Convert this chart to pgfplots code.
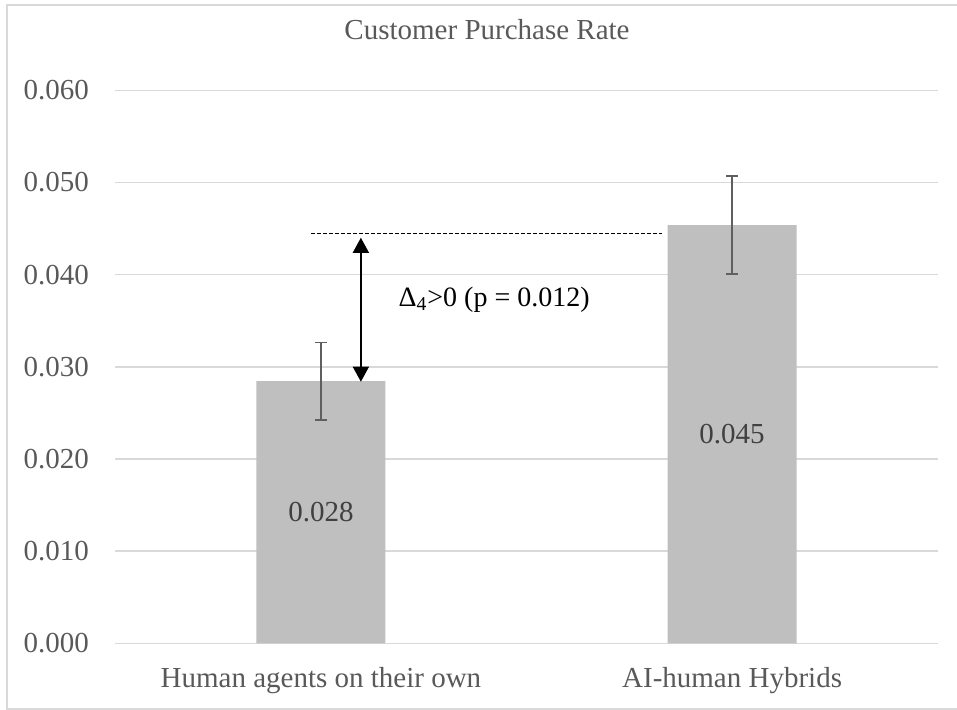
\documentclass[border=0pt]{standalone}
\usepackage{fontspec}
\setmainfont{Liberation Serif}
\usepackage{pgfplots}
\pgfplotsset{compat=1.18}
\usetikzlibrary{arrows.meta}
\definecolor{barfill}{HTML}{BFBFBF}
\definecolor{gridgray}{HTML}{D9D9D9}
\definecolor{textgray}{HTML}{595959}
\definecolor{labelgray}{HTML}{404040}
\definecolor{errgray}{HTML}{5F5F5F}
\begin{document}
\begin{tikzpicture}
\useasboundingbox (-57.65pt,-33.35pt) rectangle (420.85pt,321.65pt);
\draw[gridgray, line width=0.75pt] (-54.15pt,-32.9pt) rectangle (480pt,319.15pt);
\begin{axis}[
  scale only axis,
  width=411.2pt, height=276.5pt,
  xmin=-0.5, xmax=1.5,
  ymin=0, ymax=0.06,
  clip=false,
  axis line style={draw=none},
  tick style={draw=none},
  major tick length=0pt,
  ymajorgrids,
  major grid style={gridgray, line width=0.75pt},
  ytick={0,0.01,0.02,0.03,0.04,0.05,0.06},
  scaled y ticks=false,
  yticklabel style={/pgf/number format/fixed, /pgf/number format/fixed zerofill, /pgf/number format/precision=3, /pgf/number format/assume math mode=true},
  yticklabel style={inner sep=0pt, anchor=east, xshift=-13pt, font=\fontsize{14.5}{17}\selectfont, text=textgray},
  xtick={0,1},
  xticklabels={Human agents on their own, AI-human Hybrids},
  xticklabel style={inner sep=0pt, anchor=north, yshift=-11.8pt, font=\fontsize{14.5}{17}\selectfont, text=textgray},
  title={Customer Purchase Rate},
  title style={at={(axis description cs:0.452,1.0693)}, anchor=base, inner sep=0pt, font=\fontsize{14.5}{17}\selectfont, text=textgray},
]
% bars with error bars
\addplot[ybar, bar width=0.3136, fill=barfill, draw=none,
  error bars/.cd, y dir=both, y explicit,
  error bar style={errgray, line width=0.75pt},
  error mark options={rotate=90, mark size=3pt, line width=0.75pt, errgray}]
  coordinates {(0,0.02845) +- (0,0.0042) (1,0.04538) +- (0,0.0053)};
% value labels at bar mid-heights
\addplot[draw=none, mark=none, nodes near coords, point meta=explicit symbolic,
  nodes near coords style={anchor=center, inner sep=0pt, font=\fontsize{14.5}{17}\selectfont, text=labelgray}]
  coordinates {(0,0.014225)[0.028] (1,0.02269)[0.045]};
% dashed reference line
\addplot[black, line width=0.6pt, dash pattern=on 2pt off 1pt, mark=none]
  coordinates {(-0.0243,0.04448) (0.8306,0.04448)};
% double arrow
\addplot[black, line width=0.75pt, mark=none, {Triangle[length=7.5pt,width=8pt]}-{Triangle[length=7.5pt,width=8pt]}]
  coordinates {(0.0972,0.02838) (0.0972,0.0440)};
\node[anchor=base west, inner sep=0pt, font=\fontsize{14}{16}\selectfont] at (axis cs:0.1880,0.03655) {Δ\textsubscript{4}>0 (p = 0.012)};
\end{axis}
\end{tikzpicture}
\end{document}
